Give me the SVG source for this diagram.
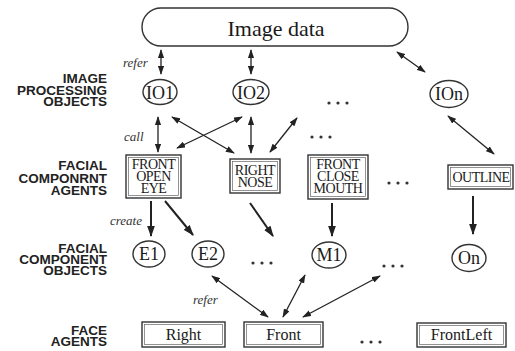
<svg xmlns="http://www.w3.org/2000/svg" width="515" height="351" viewBox="0 0 515 351">
<style>
.lbl{font-family:"Liberation Sans",Arial,sans-serif;font-weight:bold;font-size:13.5px;fill:#222;text-anchor:end}
.node{font-family:"Liberation Serif","Times New Roman",serif;fill:#1a1a1a;text-anchor:middle}
.bx{font-size:14px;letter-spacing:-0.5px}
.it{font-family:"Liberation Serif","Times New Roman",serif;font-style:italic;font-size:13px;fill:#333}
.sh{fill:#fff;stroke:#333;stroke-width:1.4}
.inner{fill:none;stroke:#666;stroke-width:0.7}
.c{fill:none;stroke:#222;stroke-width:1.3}
.ct{fill:none;stroke:#222;stroke-width:2}
.dot{fill:#333}
</style>
<defs>
<marker id="ah" viewBox="0 0 10 7" refX="9" refY="3.5" markerWidth="9" markerHeight="6.3" markerUnits="userSpaceOnUse" orient="auto-start-reverse"><path d="M0,0 L10,3.5 L0,7 z" fill="#222"/></marker>
<marker id="ahb" viewBox="0 0 10 7" refX="9" refY="3.5" markerWidth="11" markerHeight="8.5" markerUnits="userSpaceOnUse" orient="auto"><path d="M0,0 L10,3.5 L0,7 z" fill="#222"/></marker>
</defs>
<rect width="515" height="351" fill="#fff"/>

<g id="labels">
<text class="lbl" x="107" y="83">IMAGE</text>
<text class="lbl" x="107" y="95">PROCESSING</text>
<text class="lbl" x="107" y="106">OBJECTS</text>
<text class="lbl" x="107" y="170">FACIAL</text>
<text class="lbl" x="107" y="183">COMPONRNT</text>
<text class="lbl" x="107" y="195">AGENTS</text>
<text class="lbl" x="107" y="253">FACIAL</text>
<text class="lbl" x="107" y="264">COMPONENT</text>
<text class="lbl" x="107" y="275">OBJECTS</text>
<text class="lbl" x="107" y="335">FACE</text>
<text class="lbl" x="107" y="346">AGENTS</text>
</g>

<g id="connectors">
<line class="c" x1="161" y1="50" x2="161" y2="74" marker-start="url(#ah)" marker-end="url(#ah)"/>
<line class="c" x1="251" y1="50" x2="251" y2="74" marker-start="url(#ah)" marker-end="url(#ah)"/>
<line class="c" x1="397" y1="52" x2="425" y2="72" marker-start="url(#ah)" marker-end="url(#ah)"/>
<line class="c" x1="158" y1="117" x2="158" y2="152" marker-start="url(#ah)" marker-end="url(#ah)"/>
<line class="c" x1="172" y1="117" x2="234" y2="153" marker-start="url(#ah)" marker-end="url(#ah)"/>
<line class="c" x1="242" y1="117" x2="177" y2="148" marker-start="url(#ah)" marker-end="url(#ah)"/>
<line class="c" x1="251" y1="117" x2="251" y2="153" marker-start="url(#ah)" marker-end="url(#ah)"/>
<line class="c" x1="297" y1="118" x2="270" y2="152" marker-start="url(#ah)" marker-end="url(#ah)"/>
<line class="c" x1="448" y1="116" x2="494" y2="154" marker-start="url(#ah)" marker-end="url(#ah)"/>
<line class="ct" x1="151" y1="201" x2="151" y2="236" marker-end="url(#ahb)"/>
<line class="ct" x1="165" y1="201" x2="193" y2="235" marker-end="url(#ahb)"/>
<line class="ct" x1="250" y1="203" x2="273" y2="236" marker-end="url(#ahb)"/>
<line class="ct" x1="332" y1="203" x2="332" y2="236" marker-end="url(#ahb)"/>
<line class="ct" x1="473" y1="196" x2="473" y2="234" marker-end="url(#ahb)"/>
<line class="c" x1="212" y1="276" x2="268" y2="317" marker-start="url(#ah)" marker-end="url(#ah)"/>
<line class="c" x1="283" y1="317" x2="305" y2="275" marker-start="url(#ah)" marker-end="url(#ah)"/>
<line class="c" x1="303" y1="317" x2="380" y2="276" marker-start="url(#ah)" marker-end="url(#ah)"/>
<text class="it" x="123" y="67">refer</text>
<text class="it" x="124" y="141">call</text>
<text class="it" x="110" y="225">create</text>
<text class="it" x="193" y="304">refer</text>
</g>

<g id="image-data">
<rect class="sh" x="142" y="8" width="266" height="38" rx="19" ry="19"/>
<text class="node" x="276" y="36" font-size="22">Image data</text>
</g>

<g id="io1"><ellipse class="sh" cx="160" cy="92" rx="17" ry="12.5"/><text class="node" x="160" y="99" font-size="18">IO1</text></g>
<g id="io2"><ellipse class="sh" cx="251" cy="92" rx="18" ry="12.5"/><text class="node" x="251" y="99" font-size="18">IO2</text></g>
<g id="ion"><ellipse class="sh" cx="449" cy="94" rx="19" ry="13.5"/><text class="node" x="449" y="100" font-size="18">IOn</text></g>

<g id="dots1" class="dot"><circle cx="329" cy="103" r="1.6"/><circle cx="338" cy="103" r="1.6"/><circle cx="347" cy="103" r="1.6"/></g>
<g id="dots2" class="dot"><circle cx="312" cy="137" r="1.6"/><circle cx="321" cy="137" r="1.6"/><circle cx="330" cy="137" r="1.6"/></g>

<g id="front-open-eye">
<rect class="sh" x="126" y="155" width="55" height="43"/>
<rect class="inner" x="128.5" y="157.5" width="50" height="38"/>
<text class="node bx" x="153.5" y="169">FRONT</text>
<text class="node bx" x="153.5" y="181">OPEN</text>
<text class="node bx" x="153.5" y="193">EYE</text>
</g>
<g id="right-nose">
<rect class="sh" x="230" y="159" width="50" height="34"/>
<rect class="inner" x="232.5" y="161.5" width="45" height="29"/>
<text class="node bx" x="255" y="175">RIGHT</text>
<text class="node bx" x="255" y="187">NOSE</text>
</g>
<g id="front-close-mouth">
<rect class="sh" x="308" y="155" width="60" height="44"/>
<rect class="inner" x="310.5" y="157.5" width="55" height="39"/>
<text class="node bx" x="338" y="169">FRONT</text>
<text class="node bx" x="338" y="181">CLOSE</text>
<text class="node bx" x="338" y="193">MOUTH</text>
</g>
<g id="dots3" class="dot"><circle cx="389" cy="183" r="1.6"/><circle cx="398" cy="183" r="1.6"/><circle cx="407" cy="183" r="1.6"/></g>
<g id="outline">
<rect class="sh" x="448" y="165" width="65" height="24"/>
<rect class="inner" x="450.5" y="167.5" width="60" height="19"/>
<text class="node bx" x="481" y="182">OUTLINE</text>
</g>

<g id="e1"><ellipse class="sh" cx="149" cy="254" rx="16" ry="13"/><text class="node" x="149" y="260" font-size="18">E1</text></g>
<g id="e2"><ellipse class="sh" cx="208" cy="254" rx="16" ry="13"/><text class="node" x="208" y="260" font-size="18">E2</text></g>
<g id="dots4" class="dot"><circle cx="253" cy="263" r="1.6"/><circle cx="262" cy="263" r="1.6"/><circle cx="271" cy="263" r="1.6"/></g>
<g id="m1"><ellipse class="sh" cx="329" cy="255" rx="17" ry="13"/><text class="node" x="329" y="261" font-size="18">M1</text></g>
<g id="dots5" class="dot"><circle cx="384" cy="266" r="1.6"/><circle cx="393" cy="266" r="1.6"/><circle cx="402" cy="266" r="1.6"/></g>
<g id="on"><ellipse class="sh" cx="469" cy="258" rx="17" ry="13.5"/><text class="node" x="469" y="264" font-size="18">On</text></g>

<g id="right">
<rect class="sh" x="142" y="322" width="83" height="25"/>
<rect class="inner" x="144.5" y="324.5" width="78" height="20"/>
<text class="node" x="183.5" y="340" font-size="16">Right</text>
</g>
<g id="front">
<rect class="sh" x="244" y="322" width="79" height="25"/>
<rect class="inner" x="246.5" y="324.5" width="74" height="20"/>
<text class="node" x="283.5" y="340" font-size="16">Front</text>
</g>
<g id="dots6" class="dot"><circle cx="362" cy="342" r="1.6"/><circle cx="371" cy="342" r="1.6"/><circle cx="380" cy="342" r="1.6"/></g>
<g id="frontleft">
<rect class="sh" x="417" y="323" width="89" height="24"/>
<rect class="inner" x="419.5" y="325.5" width="84" height="19"/>
<text class="node" x="461.5" y="340" font-size="16">FrontLeft</text>
</g>
</svg>
